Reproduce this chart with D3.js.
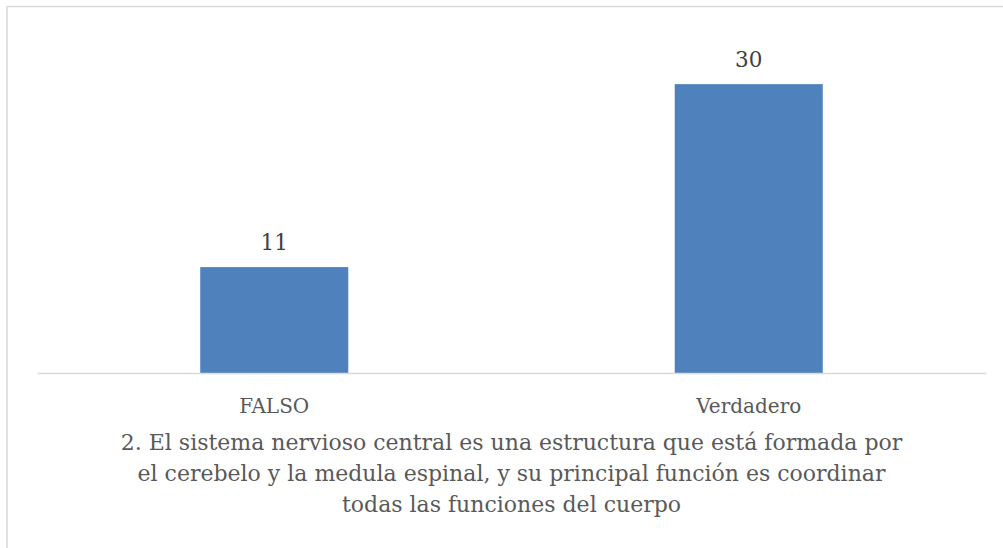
<!DOCTYPE html>
<html><head><meta charset="utf-8">
<script src="https://cdn.jsdelivr.net/npm/d3@7"></script>
<style>body{margin:0;background:#fff;}svg{display:block;}</style>
</head><body>
<script>
const categories = ["FALSO", "Verdadero"];
const values = [11, 30];
const yTicks = [0, 5, 10, 15, 20, 25, 30, 35];
const titleLines = [
  "2. El sistema nervioso central es una estructura que está formada por",
  "el cerebelo y la medula espinal, y su principal función es coordinar",
  "todas las funciones del cuerpo"
];

const W = 1003, H = 548;
const font = "'DejaVu Serif', serif";
const svg = d3.select("body").append("svg").attr("width", W).attr("height", H);

svg.append("rect").attr("x", 7).attr("y", 6.5).attr("width", 1010).attr("height", 560)
  .attr("fill", "#fff").attr("stroke", "#d9d9d9").attr("stroke-width", 1.5);

const x = d3.scaleBand().domain(categories).range([37, 986]).paddingInner(0.688).paddingOuter(0.344);
const y = d3.scaleLinear().domain([0, d3.max(yTicks)]).range([373, 36]);

svg.selectAll("rect.bar").data(values).join("rect").attr("class", "bar")
  .attr("x", (d, i) => x(categories[i]))
  .attr("width", x.bandwidth())
  .attr("y", d => y(d))
  .attr("height", d => y(0) - y(d))
  .attr("fill", "#4f81bd");

const xAxis = svg.append("g").attr("transform", `translate(0,${y(0)})`)
  .call(d3.axisBottom(x).tickSize(0).tickPadding(0));
xAxis.select(".domain").attr("stroke", "#d9d9d9").attr("stroke-width", 1.5);
xAxis.selectAll(".tick text").attr("dy", null).attr("y", 39.5)
  .attr("font-family", font).attr("font-size", 20).attr("fill", "#595959");

svg.selectAll("text.lbl").data(values).join("text").attr("class", "lbl")
  .attr("x", (d, i) => x(categories[i]) + x.bandwidth() / 2)
  .attr("y", d => y(d) - 17.5)
  .attr("text-anchor", "middle")
  .attr("font-family", font).attr("font-size", 21.5).attr("fill", "#404040")
  .text(d => d);

svg.selectAll("text.title").data(titleLines).join("text").attr("class", "title")
  .attr("x", 511.5)
  .attr("y", (d, i) => 450 + i * 31)
  .attr("text-anchor", "middle")
  .attr("font-family", font).attr("font-size", 22).attr("fill", "#595959")
  .text(d => d);
</script>
</body></html>
